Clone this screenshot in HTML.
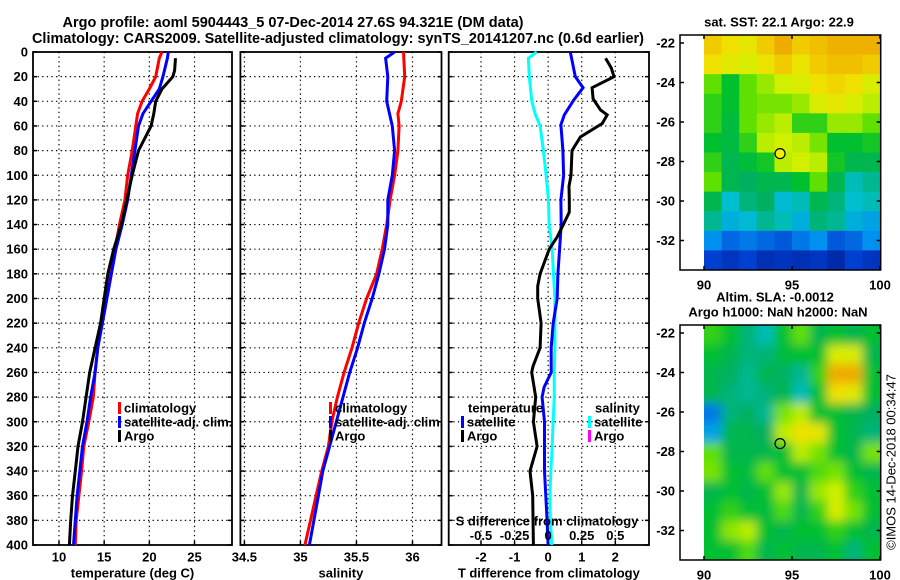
<!DOCTYPE html>
<html><head><meta charset="utf-8"><style>
html,body{margin:0;padding:0;background:#fff;}
svg{display:block;font-family:"Liberation Sans",sans-serif;font-weight:bold;}
</style></head><body>
<svg id="fig" width="900" height="580" viewBox="0 0 900 580" xmlns="http://www.w3.org/2000/svg">
<text x="293" y="27" font-size="14.5" text-anchor="middle" textLength="461" lengthAdjust="spacingAndGlyphs">Argo profile: aoml 5904443_5 07-Dec-2014 27.6S 94.321E (DM data)</text>
<text x="338" y="43" font-size="14.5" text-anchor="middle" textLength="612" lengthAdjust="spacingAndGlyphs">Climatology: CARS2009. Satellite-adjusted climatology: synTS_20141207.nc (0.6d earlier)</text>
<g id="g"></g>
</svg>
<script>
// ---- profile data ----
const tempClimDepth=[0,5,20,30,40,50,60,80,100,120,140,160,180,200,220,240,260,280,300,320,340,360,380,400];
const tempClim=[21.4,21.1,20.7,20.0,19.2,18.7,18.5,18.1,17.6,17.3,16.7,16.2,15.7,15.2,14.7,14.3,14.0,13.8,13.3,12.75,12.5,12.2,11.9,11.8];
const tempSatDepth=[0,5,20,30,40,50,60,80,100,120,140,160,180,200,220,240,260,280,300,320,340,360,380,400];
const tempSat=[22.1,22.0,21.5,21.1,20.2,19.3,18.8,18.4,18.0,17.6,17.0,16.3,15.8,15.3,14.8,14.3,14.0,13.5,13.1,12.6,12.3,12.0,11.8,11.6];
const tempArgoDepth=[5,15,20,30,40,50,60,70,80,100,120,140,160,180,200,220,240,260,280,300,320,340,360,380,400];
const tempArgo=[22.9,22.8,22.6,21.4,20.7,20.5,20.2,19.5,18.8,18.1,17.5,16.9,16.05,15.4,15.0,14.6,14.0,13.4,13.0,12.6,12.1,11.8,11.5,11.3,11.15];
const salClimDepth=[0,20,40,50,60,80,100,120,140,160,180,200,220,240,260,280,300,320,340,360,380,400];
const salClim=[35.92,35.93,35.90,35.87,35.88,35.87,35.84,35.80,35.77,35.73,35.68,35.59,35.52,35.46,35.39,35.33,35.28,35.25,35.19,35.14,35.09,35.04];
const salSatDepth=[0,5,20,40,60,80,100,120,140,160,180,200,220,240,260,280,300,320,340,360,380,400];
const salSat=[35.84,35.76,35.78,35.77,35.82,35.84,35.82,35.78,35.78,35.75,35.70,35.64,35.57,35.51,35.44,35.38,35.32,35.26,35.20,35.16,35.12,35.08];
const dTsatDepth=[0,20,29,39,51,59,80,100,120,140,160,180,200,220,240,260,272,280,300,320,340,360,380,400];
const dTsat=[0.66,0.81,1.04,0.76,0.48,0.38,0.44,0.46,0.38,0.39,0.34,0.29,0.27,0.15,0.09,0.09,-0.12,-0.18,-0.11,-0.11,-0.11,-0.07,-0.03,0.0];
const dTargoDepth=[5,13,20,29,38,47,51,58,69,80,100,109,120,130,140,150,160,180,190,200,220,240,255,260,280,300,320,340,360,400];
const dTargo=[1.71,1.88,1.96,1.31,1.34,1.56,1.76,1.61,0.96,0.71,0.68,0.62,0.63,0.63,0.45,0.27,0.03,-0.24,-0.31,-0.31,-0.21,-0.24,-0.45,-0.49,-0.37,-0.44,-0.33,-0.54,-0.46,-0.44];
const dSsatDepth=[0,5,20,40,50,60,80,100,120,140,160,180,200,220,240,260,280,300,320,340,360,380,400];
const dSsat=[-0.085,-0.147,-0.14,-0.122,-0.097,-0.06,-0.035,-0.015,0.002,0.007,0.03,0.04,0.05,0.05,0.05,0.045,0.046,0.037,0.03,0.02,0.014,0.016,0.028];
const depthTicks=[0,20,40,60,80,100,120,140,160,180,200,220,240,260,280,300,320,340,360,380,400];
const tempTicks=[10,15,20,25];
const salTicks=[34.5,35,35.5,36];
const dTTicks=[-2,-1,0,1,2];
const dSTicks=[-0.5,-0.25,0,0.25,0.5];
const dSTickLabels=["-0.5","-0.25","0","0.25","0.5"];
// ---- map data (rows -22..-33 lat, cols 90.5..99.5 lon) ----
const sstGrid=[
[0.82,0.78,0.75,0.82,0.88,0.82,0.84,0.87,0.87,0.87],
[0.78,0.74,0.72,0.77,0.82,0.77,0.82,0.84,0.84,0.82],
[0.6,0.5,0.6,0.65,0.7,0.72,0.78,0.8,0.78,0.72],
[0.55,0.5,0.6,0.62,0.62,0.65,0.72,0.75,0.72,0.68],
[0.55,0.48,0.6,0.65,0.68,0.55,0.55,0.65,0.65,0.6],
[0.5,0.47,0.55,0.68,0.7,0.68,0.62,0.5,0.5,0.52],
[0.55,0.45,0.48,0.52,0.68,0.7,0.68,0.52,0.45,0.45],
[0.6,0.45,0.42,0.45,0.45,0.5,0.6,0.45,0.35,0.38],
[0.45,0.33,0.4,0.42,0.32,0.35,0.45,0.4,0.33,0.35],
[0.38,0.3,0.32,0.38,0.35,0.3,0.4,0.38,0.3,0.28],
[0.25,0.2,0.22,0.2,0.18,0.22,0.25,0.18,0.2,0.25],
[0.15,0.12,0.15,0.1,0.12,0.1,0.12,0.08,0.15,0.12]];
const slaGrid=[
[0.55,0.5,0.4,0.35,0.5,0.6,0.45,0.5,0.45,0.5],
[0.5,0.45,0.4,0.4,0.48,0.5,0.5,0.72,0.72,0.45],
[0.45,0.42,0.38,0.45,0.42,0.38,0.55,0.88,0.88,0.5],
[0.45,0.4,0.38,0.4,0.45,0.35,0.5,0.78,0.74,0.5],
[0.22,0.4,0.42,0.38,0.62,0.68,0.5,0.5,0.45,0.42],
[0.28,0.45,0.45,0.42,0.68,0.78,0.75,0.5,0.45,0.4],
[0.6,0.45,0.45,0.45,0.5,0.68,0.62,0.5,0.45,0.62],
[0.62,0.5,0.48,0.6,0.5,0.5,0.58,0.62,0.5,0.45],
[0.45,0.5,0.45,0.5,0.65,0.45,0.65,0.7,0.55,0.5],
[0.5,0.55,0.5,0.48,0.58,0.45,0.55,0.72,0.62,0.5],
[0.5,0.64,0.68,0.5,0.45,0.5,0.5,0.55,0.5,0.45],
[0.5,0.5,0.58,0.45,0.5,0.45,0.45,0.5,0.4,0.5]];
const latTicks=[-22,-24,-26,-28,-30,-32];
const lonTicks=[90,95,100];
const argoLon=94.321, argoLat=-27.6;

const NS="http://www.w3.org/2000/svg";
const G=document.getElementById('g');
function mk(tag,attrs,parent){const e=document.createElementNS(NS,tag);for(const k in attrs)e.setAttribute(k,attrs[k]);(parent||G).appendChild(e);return e;}
function txt(x,y,s,size,anchor,parent){const t=mk('text',{x:x,y:y,'font-size':size,'text-anchor':anchor||'middle','dominant-baseline':'central'},parent);t.textContent=s;return t;}
const TOP=52,BOT=545;
const yD=d=>TOP+d*(BOT-TOP)/400;
function lin(d0,d1,p0,p1){return v=>p0+(v-d0)*(p1-p0)/(d1-d0);}
const panels=[
 {name:'temperature',L:33,R:232,x:lin(10,25,59,194.5)},
 {name:'salinity',L:240.4,R:441.5,x:lin(34.5,36,244.4,412.5)},
 {name:'difference',L:448.7,R:649,x:lin(-2,2,481,615.3)}];
const xS=lin(-0.5,0.5,481,615.3);

function panelFrame(p,ticks,labels,title){
 const g=mk('g',{});
 
 
 depthTicks.forEach(d=>{
  if(d>0&&d<400){const l=mk('line',{x1:p.L,x2:p.R,y1:yD(d),y2:yD(d),stroke:'#000','stroke-width':1.2,'stroke-dasharray':'1.3 3.3'},g);
  }
  mk('line',{x1:p.L,x2:p.L+4,y1:yD(d),y2:yD(d),stroke:'#000','stroke-width':1.5},g);
  mk('line',{x1:p.R,x2:p.R-4,y1:yD(d),y2:yD(d),stroke:'#000','stroke-width':1.5},g);
 });
 ticks.forEach((v,i)=>{
  const X=p.x(v);
  const l=mk('line',{x1:X,x2:X,y1:TOP,y2:BOT,stroke:'#000','stroke-width':1.2,'stroke-dasharray':'1.3 3.3'},g);
  
  mk('line',{x1:X,x2:X,y1:BOT,y2:BOT-4,stroke:'#000','stroke-width':1.5},g);
  const t=txt(X,557,labels[i],13,'middle',g);
  
 });
 const r=mk('rect',{x:p.L,y:TOP,width:p.R-p.L,height:BOT-TOP,fill:'none',stroke:'#000','stroke-width':1.8},g);
 
 const at=txt((p.L+p.R)/2,573,title,13,'middle',g);
 
 return g;
}
function series(p,xf,depths,vals,color,name){
 const pts=depths.map((d,i)=>xf(vals[i]).toFixed(1)+','+yD(d).toFixed(1)).join(' ');
 const l=mk('polyline',{points:pts,fill:'none',stroke:color,'stroke-width':3,'stroke-linejoin':'miter'});
 
 
}
function legendEntry(xb,y,color,label,name){
 const g=mk('g',{});
 
 
 mk('rect',{x:xb,y:y-6,width:3,height:12,fill:color},g);
 txt(xb+6,y,label,13,'start',g);
}
const p1=panelFrame(panels[0],tempTicks,tempTicks.map(String),'temperature (deg C)');
const p2=panelFrame(panels[1],salTicks,salTicks.map(String),'salinity');
const p3=panelFrame(panels[2],dTTicks,dTTicks.map(String),'T difference from climatology');
depthTicks.forEach(d=>{const t=txt(28,yD(d),String(d),13,'end');
 });

series(panels[0],panels[0].x,tempClimDepth,tempClim,'#ff0000','temp-climatology-line');
series(panels[0],panels[0].x,tempSatDepth,tempSat,'#0000ff','temp-satellite-line');
series(panels[0],panels[0].x,tempArgoDepth,tempArgo,'#000000','temp-argo-line');
series(panels[1],panels[1].x,salClimDepth,salClim,'#ff0000','sal-climatology-line');
series(panels[1],panels[1].x,salSatDepth,salSat,'#0000ff','sal-satellite-line');
series(panels[2],xS,dSsatDepth,dSsat,'#00ffff','s-diff-satellite-line');
series(panels[2],panels[2].x,dTsatDepth,dTsat,'#0000ff','t-diff-satellite-line');
series(panels[2],panels[2].x,dTargoDepth,dTargo,'#000000','t-diff-argo-line');

legendEntry(118,408,'#ff0000','climatology','legend-climatology');
legendEntry(118,422,'#0000ff','satellite-adj. clim.','legend-satellite-adj');
legendEntry(118,436,'#000000','Argo','legend-argo');
legendEntry(329,408,'#ff0000','climatology','legend-sal-climatology');
legendEntry(329,422,'#0000ff','satellite-adj. clim.','legend-sal-satellite-adj');
legendEntry(329,436,'#000000','Argo','legend-sal-argo');
let t=txt(468,408,'temperature',13,'start');
t=txt(595,408,'salinity',13,'start');
legendEntry(461,422,'#0000ff','satellite','legend-t-satellite');
legendEntry(461,436,'#000000','Argo','legend-t-argo');
legendEntry(588,422,'#00ffff','satellite','legend-s-satellite');
legendEntry(588,436,'#ff00ff','Argo','legend-s-argo');
t=txt(547,521,'S difference from climatology',13,'middle');
dSTicks.forEach((v,i)=>{const e=txt(xS(v),535.5,dSTickLabels[i],13,'middle');
 });

// ---- maps ----
const stops=[[0,[0,16,122]],[0.15,[0,64,208]],[0.25,[0,144,240]],[0.33,[0,192,208]],[0.42,[0,176,96]],[0.5,[0,192,48]],[0.6,[96,224,0]],[0.7,[208,240,0]],[0.78,[240,224,0]],[0.87,[240,176,0]],[1,[224,128,0]]];
function cmap(v){for(let i=1;i<stops.length;i++){if(v<=stops[i][0]){const a=stops[i-1],b=stops[i],f=(v-a[0])/(b[0]-a[0]);
 return 'rgb('+a[1].map((c,k)=>Math.round(c+(b[1][k]-c)*f)).join(',')+')';}}return 'rgb(224,128,0)';}
const defs=mk('defs',{});
const flt=mk('filter',{id:'blur',x:'-5%',y:'-5%',width:'110%',height:'110%'},defs);
mk('feGaussianBlur',{stdDeviation:'5'},flt);
function drawMap(top,grid,name,blur,markerFill){
 const box={L:680,R:880.7,T:top,B:top+235};
 const lonX=lin(90,100,704,880);
 const latY=lin(-22,-32,top+8,top+205.5);
 const cp=mk('clipPath',{id:'clip'+name},defs);
 mk('rect',{x:704,y:box.T,width:176.7,height:235},cp);
 const g=mk('g',{'clip-path':'url(#clip'+name+')'});
 
 
 const inner=mk('g',blur?{filter:'url(#blur)'}:{},g);
 const rows=grid.length,cols=grid[0].length;
 const ext=blur?12:0;
 for(let r=0;r<rows;r++)for(let c=0;c<cols;c++){
  const x0=lonX(90+c),x1=lonX(91+c),y0=box.T+r*235/rows,y1=box.T+(r+1)*235/rows;
  mk('rect',{x:x0-(c==0?ext:0),y:y0-(r==0?ext:0),width:x1-x0+0.6+(c==0||c==cols-1?ext:0),height:y1-y0+0.6+(r==0||r==rows-1?ext:0),fill:cmap(grid[r][c])},inner);
 }
 const fr=mk('g',{});
 
 
 mk('rect',{x:box.L,y:box.T,width:box.R-box.L,height:box.B-box.T,fill:'none',stroke:'#000','stroke-width':1.5},fr);
 latTicks.forEach(v=>{const Y=latY(v);
  mk('line',{x1:box.L,x2:box.L+4,y1:Y,y2:Y,stroke:'#000','stroke-width':1.5},fr);
  mk('line',{x1:box.R,x2:box.R-4,y1:Y,y2:Y,stroke:'#000','stroke-width':1.5},fr);
  const e=txt(675,Y,String(v),13,'end',fr);});
 lonTicks.forEach(v=>{const X=lonX(v);
  mk('line',{x1:X,x2:X,y1:box.B,y2:box.B-4,stroke:'#000','stroke-width':1.5},fr);
  mk('line',{x1:X,x2:X,y1:box.T,y2:box.T+4,stroke:'#000','stroke-width':1.5},fr);
  const e=txt(X,box.B+15,String(v),13,'middle',fr);});
 const m=mk('circle',{cx:lonX(argoLon),cy:latY(argoLat),r:5,fill:markerFill,stroke:'#000','stroke-width':1.2});
 
 
}
drawMap(35,sstGrid,'sst',false,'#f0f000');
drawMap(325,slaGrid,'sla',true,'none');
t=txt(779,22,'sat. SST: 22.1  Argo: 22.9',13,'middle');
t=txt(775,297,'Altim. SLA: -0.0012',13,'middle');
t=txt(778,312,'Argo h1000: NaN h2000: NaN',13,'middle');
t=txt(0,0,'©IMOS 14-Dec-2018 00:34:47',13,'middle');t.setAttribute('transform','translate(891,462) rotate(-90)');t.setAttribute('font-weight','normal');

</script>
</body></html>
